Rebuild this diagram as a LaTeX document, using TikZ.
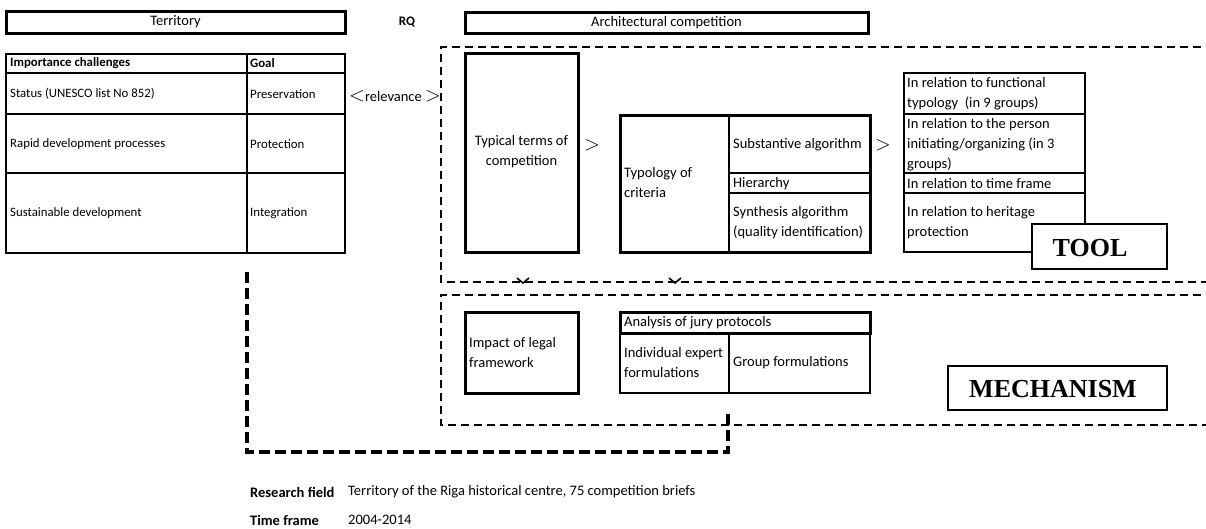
\documentclass[tikz,border=0pt]{standalone}
\usepackage{fontspec}
\setmainfont{Carlito}
\newfontfamily\tnr{Liberation Serif}
\begin{document}
\begin{tikzpicture}[x=1pt,y=-1pt,
  txt/.style={inner sep=0pt, font=\fontsize{14.5}{20}\selectfont, align=left, anchor=west},
  ctxt/.style={inner sep=0pt, font=\fontsize{14.5}{20}\selectfont, align=center},
  ttxt/.style={inner sep=0pt, font=\fontsize{12.8}{16}\selectfont, anchor=west},
  hdr/.style={draw, line width=3pt, inner sep=0pt, font=\fontsize{14.5}{20}\selectfont},
  thickbox/.style={draw, line width=3pt, inner sep=0pt},
  thinbox/.style={draw, line width=1.5pt, inner sep=0pt, fill=white},
  tbl/.style={line width=1.8pt},
  thin/.style={line width=1.4pt},
  dbox/.style={line width=1.8pt, dash pattern=on 8pt off 5pt},
  dconn/.style={line width=3.5pt, dash pattern=on 11pt off 5pt},
  big/.style={inner sep=0pt, font=\tnr\bfseries\fontsize{26}{30}\selectfont},
  gtsym/.style={inner sep=0pt, font=\fontsize{20}{20}\selectfont},
  chev/.style={line width=1.6pt}
]
\useasboundingbox (0,0) rectangle (1206,528);

% headers
\node[hdr, minimum width=339pt, minimum height=22pt] (terr) at (175.5,22) {Territory};
\node[ctxt, font=\bfseries\fontsize{13}{16}\selectfont] (rq) at (407,22) {RQ};
\node[hdr, minimum width=403pt, minimum height=21pt] (arch) at (666.5,22.5) {Architectural competition};

% left table
\draw[tbl] (6,54) rectangle (345,253);
\draw[tbl] (6,73) -- (345,73);
\draw[tbl] (6,114) -- (345,114);
\draw[tbl] (6,173) -- (345,173);
\draw[tbl] (247,54) -- (247,253);
\node[ttxt, font=\bfseries\fontsize{12.8}{16}\selectfont] (ich) at (10,63.5) {Importance challenges};
\node[ttxt, font=\bfseries\fontsize{12.8}{16}\selectfont] (goal) at (250,63.5) {Goal};
\node[ttxt] (st) at (10,94) {Status (UNESCO list No 852)};
\node[ttxt] (pres) at (250,94) {Preservation};
\node[ttxt] (rap) at (10,144) {Rapid development processes};
\node[ttxt] (prot) at (250,144) {Protection};
\node[ttxt] (sus) at (10,213) {Sustainable development};
\node[ttxt] (integ) at (250,213) {Integration};
\node[txt] (rel) at (349,96) {{\fontsize{20}{20}\selectfont$<$}relevance {\fontsize{20}{20}\selectfont$>$}};

% tool dashed region
\draw[dbox] (1214,47) -- (441,47) -- (441,282) -- (1214,282);
% mechanism dashed region
\draw[dbox] (1214,295) -- (441,295) -- (441,425) -- (1214,425);

% typical terms
\node[thickbox, minimum width=113pt, minimum height=199pt] (typ) at (521.5,152.5) {};
\node[ctxt] (typt) at (521.5,152) {Typical terms of\\competition};
\node[gtsym] (gt1) at (592,145) {$>$};

% typology table
\draw[line width=3pt] (620,115) rectangle (870,252);
\draw[line width=2.2pt] (729,115) -- (729,252);
\draw[thin] (729,173) -- (870,173);
\draw[thin] (729,193) -- (870,193);
\node[txt] (typo) at (624,183) {Typology of\\criteria};
\node[txt] (sub) at (733,145) {Substantive algorithm};
\node[txt] (hier) at (733,183.5) {Hierarchy};
\node[txt] (syn) at (733,223) {Synthesis algorithm\\(quality identification)};
\node[gtsym] (gt2) at (883,145) {$>$};

% right column
\draw[thin] (904,73) rectangle (1085,252);
\draw[thin] (904,114) -- (1085,114);
\draw[thin] (904,173) -- (1085,173);
\draw[thin] (904,193) -- (1085,193);
\node[txt] (r1) at (907,94) {In relation to functional\\typology~~(in 9 groups)};
\node[txt] (r2) at (907,145) {In relation to the person\\initiating/organizing (in 3\\groups)};
\node[txt] (r3) at (907,183.5) {In relation to time frame};
\node[txt] (r4) at (907,223) {In relation to heritage\\protection};
\node[thinbox, minimum width=135pt, minimum height=45pt] (tool) at (1099.5,246.5) {};
\node[big] (toolt) at (1090,248) {TOOL};

% chevrons
\coordinate (ch1) at (523,283);
\coordinate (ch2) at (675,283);
\draw[chev] ([shift={(-6,-5)}]ch1) -- (ch1) -- ([shift={(6,-5)}]ch1);
\draw[chev] ([shift={(-6,-5)}]ch2) -- (ch2) -- ([shift={(6,-5)}]ch2);

% mechanism contents
\node[thickbox, minimum width=113pt, minimum height=81pt] (imp) at (521.5,352.5) {};
\node[txt] (impt) at (469,352.5) {Impact of legal\\framework};
\draw[line width=3pt] (620,312) rectangle (870,333);
\draw[thin] (620,333) -- (620,393) -- (870,393) -- (870,333);
\draw[thin] (729,333) -- (729,393);
\node[txt] (ana) at (624,322.5) {Analysis of jury protocols};
\node[txt] (ind) at (624,363) {Individual expert\\formulations};
\node[txt] (grp) at (733,363) {Group formulations};
\node[thinbox, minimum width=219pt, minimum height=44pt] (mech) at (1057.5,388) {};
\node[big] (mecht) at (1053,389) {MECHANISM};

% long dashed connector
\coordinate (ca) at (247,272);
\coordinate (cb) at (247,452);
\coordinate (cc) at (728,452);
\coordinate (cd) at (728,413);
\draw[dconn] (ca) -- (cb) -- (cc) -- (cd);

% bottom text
\node[ttxt, font=\bfseries\fontsize{14.5}{18}\selectfont] (rf) at (250,492) {Research field};
\node[ttxt, font=\fontsize{14.5}{18}\selectfont] (rft) at (348,492) {Territory of the Riga historical centre, 75 competition briefs};
\node[ttxt, font=\bfseries\fontsize{14.5}{18}\selectfont] (tf) at (250,520) {Time frame};
\node[ttxt, font=\fontsize{14.5}{18}\selectfont] (tft) at (348,520) {2004-2014};
\end{tikzpicture}
\end{document}
